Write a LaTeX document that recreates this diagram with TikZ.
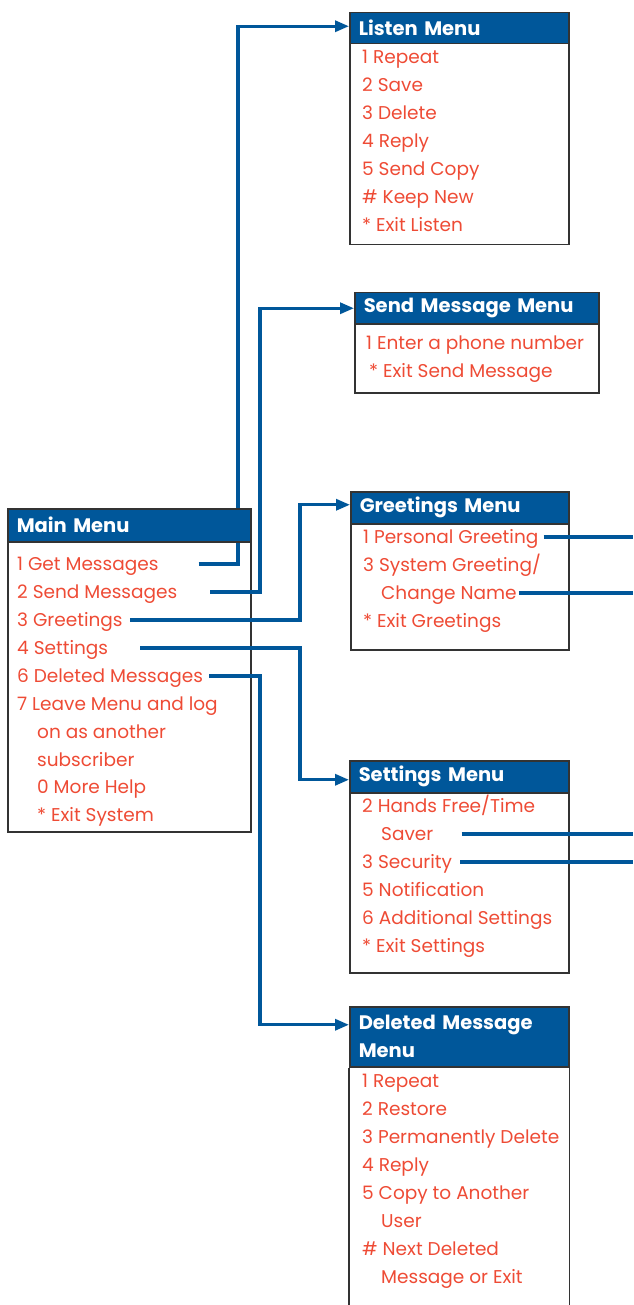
\documentclass[tikz,border=0pt]{standalone}
\usepackage{fontspec}
\setsansfont{Poppins}
\usetikzlibrary{arrows.meta,calc}
\definecolor{menublue}{HTML}{00579A}
\definecolor{itemred}{HTML}{EE4B35}
\definecolor{boxgray}{HTML}{333333}
\pgfdeclarelayer{front}
\pgfsetlayers{main,front}

\begin{document}
\begin{tikzpicture}[x=1pt,y=-1pt,>={Triangle[length=14pt,width=11pt]},
box/.style={rectangle, draw=boxgray, line width=1.5pt, anchor=north west, inner sep=0pt},
head/.style={rectangle, draw=boxgray, line width=1.5pt, fill=menublue, text=white, anchor=north west, align=left, inner xsep=9pt, inner ysep=0pt, minimum height=32pt, font=\sffamily\bfseries\fontsize{19.5}{28}\selectfont},
item/.style={anchor=west, inner sep=0pt, text=itemred, text height=12pt, text depth=0pt, font=\sffamily\fontsize{18.5}{28}\selectfont},
link/.style={draw=menublue, line width=3.2pt}]

\useasboundingbox (0,0) rectangle (633,1305);
\coordinate (JogA) at (238,0);
\coordinate (JogB) at (260,0);
\coordinate (JogC) at (300,0);
\coordinate (Edge) at (633,0);

% boxes
\draw (7,508) node[box, minimum width=243pt, minimum height=323pt] (Main) {};
\draw (349,12) node[box, minimum width=219pt, minimum height=232pt] (Listen) {};
\draw (354,292) node[box, minimum width=244pt, minimum height=100pt] (Send) {};
\draw (350,491) node[box, minimum width=218pt, minimum height=158pt] (Greet) {};
\draw (349,760) node[box, minimum width=219pt, minimum height=212pt] (Set) {};

\begin{pgfonlayer}{front}
\draw (Main.north west) node[head, minimum width=243pt, minimum height=33pt, text width=225pt] (MainHead) {Main Menu};
\draw (Listen.north west) node[head, minimum width=219pt, minimum height=31pt, text width=201pt] (ListenHead) {Listen Menu};
\draw (Send.north west) node[head, minimum width=244pt, minimum height=31pt, text width=226pt] (SendHead) {Send Message Menu};
\draw (Greet.north west) node[head, minimum width=218pt, text width=200pt] (GreetHead) {Greetings Menu};
\draw (Set.north west) node[head, minimum width=219pt, text width=201pt] (SetHead) {Settings Menu};
\draw (349,1006) node[head, minimum width=219pt, minimum height=60pt, text width=201pt] (DelHead) {Deleted Message\\Menu};
\end{pgfonlayer}
\coordinate (Bottom) at (0,1305);
\draw[draw=boxgray, line width=1.5pt] (DelHead.south west) -- (DelHead.south west |- Bottom);
\draw[draw=boxgray, line width=1.5pt] (DelHead.south east) -- (DelHead.south east |- Bottom);

% main menu
\draw (17,564) node[item] (M1) {1 Get Messages};
\draw (17,592) node[item] (M2) {2 Send Messages};
\draw (17,620) node[item] (M3) {3 Greetings};
\draw (17,648) node[item] (M4) {4 Settings};
\draw (17,676) node[item] (M6) {6 Deleted Messages};
\draw (17,704) node[item] (M7) {7 Leave Menu and log};
\draw (37,732) node[item] (M7a) {on as another};
\draw (37,760) node[item] (M7b) {subscriber};
\draw (37,787) node[item] (M0) {0 More Help};
\draw (37,815) node[item] (MX) {* Exit System};

% listen menu
\draw (362,58) node[item] (L1) {1 Repeat};
\draw (362,86) node[item] (L2) {2 Save};
\draw (362,114) node[item] (L3) {3 Delete};
\draw (362,142) node[item] (L4) {4 Reply};
\draw (362,170) node[item] (L5) {5 Send Copy};
\draw (362,198) node[item] (LK) {\# Keep New};
\draw (362,226) node[item] (LX) {* Exit Listen};

% send message menu
\draw (366,343) node[item] (S1) {1 Enter a phone number};
\draw (369,371) node[item] (SX) {* Exit Send Message};

% greetings menu
\draw (363,537) node[item] (G1) {1 Personal Greeting};
\draw (363,565) node[item] (G3) {3 System Greeting/};
\draw (381,593) node[item] (G3a) {Change Name};
\draw (363,621) node[item] (GX) {* Exit Greetings};

% settings menu
\draw (362,806) node[item] (T2) {2 Hands Free/Time};
\draw (381,834) node[item] (T2a) {Saver};
\draw (362,862) node[item] (T3) {3 Security};
\draw (362,890) node[item] (T5) {5 Notification};
\draw (362,918) node[item] (T6) {6 Additional Settings};
\draw (362,946) node[item] (TX) {* Exit Settings};

% deleted message menu
\draw (362,1081) node[item] (D1) {1 Repeat};
\draw (362,1109) node[item] (D2) {2 Restore};
\draw (362,1137) node[item] (D3) {3 Permanently Delete};
\draw (362,1165) node[item] (D4) {4 Reply};
\draw (362,1193) node[item] (D5) {5 Copy to Another};
\draw (381,1221) node[item] (D5a) {User};
\draw (362,1249) node[item] (DN) {\# Next Deleted};
\draw (381,1277) node[item] (DNa) {Message or Exit};

% links
\draw[link,->] ([xshift=40pt]M1.east) -- (M1.east -| JogA) |- ([yshift=2pt]ListenHead.west);
\draw[link,->] ([xshift=33pt]M2.east) -- (M2.east -| JogB) |- (SendHead.west);
\draw[link,->] ([xshift=7pt]M3.east) -- (M3.east -| JogC) |- ([yshift=3pt]GreetHead.west);
\draw[link,->] ([xshift=32pt]M4.east) -- (M4.east -| JogC) |- ([yshift=-3pt]SetHead.west);
\draw[link,->] ([xshift=6pt]M6.east) -- (M6.east -| JogB) |- ([yshift=12pt]DelHead.west);
\draw[link] ([xshift=5pt]G1.east) -- (G1.east -| Edge);
\draw[link] ([xshift=2pt]G3a.east) -- (G3a.east -| Edge);
\draw[link] ([xshift=28pt]T2a.east) -- (T2a.east -| Edge);
\draw[link] ([xshift=8pt]T3.east) -- (T3.east -| Edge);

\end{tikzpicture}
\end{document}
